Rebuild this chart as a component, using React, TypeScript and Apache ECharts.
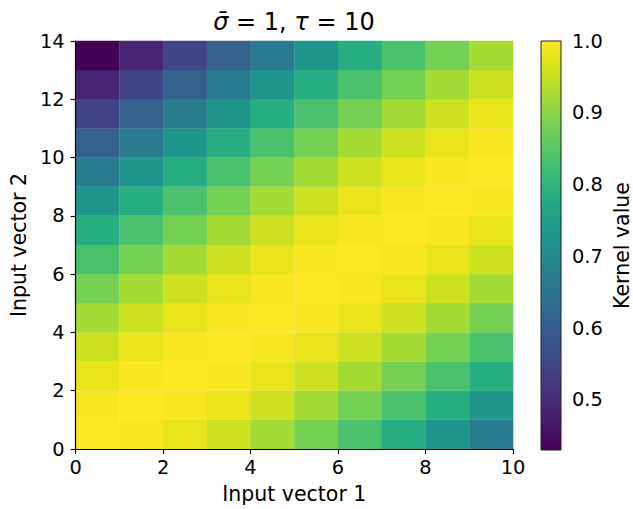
import React, { useEffect, useRef } from "react";
import * as echarts from "echarts";

// Kernel values: rows = Input vector 2 (0..13, bottom to top), columns = Input vector 1 (0..9)
const kernelRows: number[][] = [
  [1.000, 0.995, 0.980, 0.956, 0.923, 0.882, 0.835, 0.783, 0.726, 0.667],
  [0.995, 1.000, 0.995, 0.980, 0.956, 0.923, 0.882, 0.835, 0.783, 0.726],
  [0.980, 0.995, 1.000, 0.995, 0.980, 0.956, 0.923, 0.882, 0.835, 0.783],
  [0.956, 0.980, 0.995, 1.000, 0.995, 0.980, 0.956, 0.923, 0.882, 0.835],
  [0.923, 0.956, 0.980, 0.995, 1.000, 0.995, 0.980, 0.956, 0.923, 0.882],
  [0.882, 0.923, 0.956, 0.980, 0.995, 1.000, 0.995, 0.980, 0.956, 0.923],
  [0.835, 0.882, 0.923, 0.956, 0.980, 0.995, 1.000, 0.995, 0.980, 0.956],
  [0.783, 0.835, 0.882, 0.923, 0.956, 0.980, 0.995, 1.000, 0.995, 0.980],
  [0.726, 0.783, 0.835, 0.882, 0.923, 0.956, 0.980, 0.995, 1.000, 0.995],
  [0.667, 0.726, 0.783, 0.835, 0.882, 0.923, 0.956, 0.980, 0.995, 1.000],
  [0.607, 0.667, 0.726, 0.783, 0.835, 0.882, 0.923, 0.956, 0.980, 0.995],
  [0.546, 0.607, 0.667, 0.726, 0.783, 0.835, 0.882, 0.923, 0.956, 0.980],
  [0.487, 0.546, 0.607, 0.667, 0.726, 0.783, 0.835, 0.882, 0.923, 0.956],
  [0.430, 0.487, 0.546, 0.607, 0.667, 0.726, 0.783, 0.835, 0.882, 0.923],
];

const xTicks = [0, 2, 4, 6, 8, 10];
const yTicks = [0, 2, 4, 6, 8, 10, 12, 14];
const colorbarTicks = [0.5, 0.6, 0.7, 0.8, 0.9, 1.0];

const viridis = [
  "#440154", "#471365", "#482475", "#463480", "#414487", "#3b528b", "#355f8d",
  "#2f6c8e", "#2a788e", "#25848e", "#21918c", "#1e9c89", "#22a884", "#2fb47c",
  "#44bf70", "#5ec962", "#7ad151", "#9bd93c", "#bddf26", "#dfe318", "#fde725",
];

const FONT = "DejaVu Sans";

export default function App() {
  const ref = useRef<HTMLDivElement>(null);

  useEffect(() => {
    if (!ref.current) return;
    const chart = echarts.init(ref.current, undefined, { renderer: "svg" });

    const cells: number[][] = [];
    kernelRows.forEach((row, j) => row.forEach((v, i) => cells.push([i, j, v])));
    const all = cells.map((c) => c[2]);
    const vMin = Math.min(...all);
    const vMax = Math.max(...all);
    const nCols = kernelRows[0].length;
    const nRows = kernelRows.length;

    const tickLabel = { color: "#000", fontSize: 19.4, fontFamily: FONT };
    const axisLine = { show: true, lineStyle: { color: "#000", width: 1.1 } };
    const axisTick = { show: true, inside: false, length: 5, lineStyle: { color: "#000", width: 1.1 } };

    const stops = viridis.map((c, k) => ({ offset: k / (viridis.length - 1), color: c }));

    chart.setOption({
      animation: false,
      backgroundColor: "#fff",
      grid: [
        { left: 75, top: 41, width: 438, height: 409, containLabel: false },
        { left: 541, top: 41, width: 20, height: 409, containLabel: false },
      ],
      xAxis: [
        {
          type: "value", gridIndex: 0, min: 0, max: nCols, interval: 2, position: "bottom",
          axisLine, axisTick, splitLine: { show: false }, z: 10,
          axisLabel: { ...tickLabel, margin: 9, showMinLabel: true, showMaxLabel: true,
            customValues: xTicks },
          name: "Input vector 1", nameLocation: "middle", nameGap: 34,
          nameTextStyle: { color: "#000", fontSize: 20.5, fontFamily: FONT },
        },
        {
          type: "value", gridIndex: 0, min: 0, max: nCols, position: "top",
          axisLine, axisTick: { show: false }, axisLabel: { show: false }, splitLine: { show: false }, z: 10,
        },
        {
          type: "value", gridIndex: 1, min: 0, max: 1, show: false,
        },
      ],
      yAxis: [
        {
          type: "value", gridIndex: 0, min: 0, max: nRows, interval: 2, position: "left",
          axisLine, axisTick, splitLine: { show: false }, z: 10,
          axisLabel: { ...tickLabel, margin: 11, showMinLabel: true, showMaxLabel: true,
            customValues: yTicks },
          name: "Input vector 2", nameLocation: "middle", nameGap: 46, nameRotate: 90,
          nameTextStyle: { color: "#000", fontSize: 20.5, fontFamily: FONT },
        },
        {
          type: "value", gridIndex: 0, min: 0, max: nRows, position: "right",
          axisLine, axisTick: { show: false }, axisLabel: { show: false }, splitLine: { show: false }, z: 10,
        },
        {
          type: "value", gridIndex: 1, min: vMin, max: vMax, position: "right",
          axisLine: { show: false }, splitLine: { show: false },
          axisTick: { ...axisTick, customValues: colorbarTicks },
          axisLabel: { ...tickLabel, margin: 11, customValues: colorbarTicks,
            formatter: (v: number) => v.toFixed(1) },
          name: "Kernel value", nameLocation: "middle", nameGap: 50, nameRotate: 90,
          nameTextStyle: { color: "#000", fontSize: 20.5, fontFamily: FONT },
        },
      ],
      visualMap: {
        show: false, type: "continuous", seriesIndex: 0, dimension: 2,
        min: vMin, max: vMax, inRange: { color: viridis },
      },
      series: [
        {
          type: "custom", xAxisIndex: 0, yAxisIndex: 0,
          encode: { x: 0, y: 1 },
          data: cells,
          renderItem: (_p: any, api: any) => {
            const i = api.value(0);
            const j = api.value(1);
            const p0 = api.coord([i, j]);
            const p1 = api.coord([i + 1, j + 1]);
            return {
              type: "rect",
              shape: { x: p0[0], y: p1[1] - 0.3, width: p1[0] - p0[0] + 0.3, height: p0[1] - p1[1] + 0.3 },
              style: { fill: api.visual("color"), stroke: null },
            };
          },
        },
        {
          type: "custom", xAxisIndex: 2, yAxisIndex: 2,
          data: [[0, vMin]],
          renderItem: (_p: any, api: any) => {
            const p0 = api.coord([0, vMin]);
            const p1 = api.coord([1, vMax]);
            return {
              type: "rect",
              shape: { x: p0[0], y: p1[1], width: p1[0] - p0[0], height: p0[1] - p1[1] },
              style: {
                fill: new echarts.graphic.LinearGradient(0, 1, 0, 0, stops),
                stroke: "#222", lineWidth: 1,
              },
            };
          },
        },
      ],
      graphic: [
        {
          type: "text", x: 294, y: 22, z: 100,
          style: {
            text: "{i|σ\u0304}{n| = 1, }{i|τ}{n| = 10}",
            align: "center", verticalAlign: "middle",
            fill: "#000",
            rich: {
              i: { fontFamily: FONT, fontStyle: "italic", fontSize: 24, fill: "#000" },
              n: { fontFamily: FONT, fontSize: 24, fill: "#000" },
            },
          },
        },
      ],
    });

    return () => chart.dispose();
  }, []);

  return (
    <div
      ref={ref}
      style={{ position: "fixed", left: 0, top: 0, width: 633, height: 509, background: "#fff" }}
    />
  );
}
